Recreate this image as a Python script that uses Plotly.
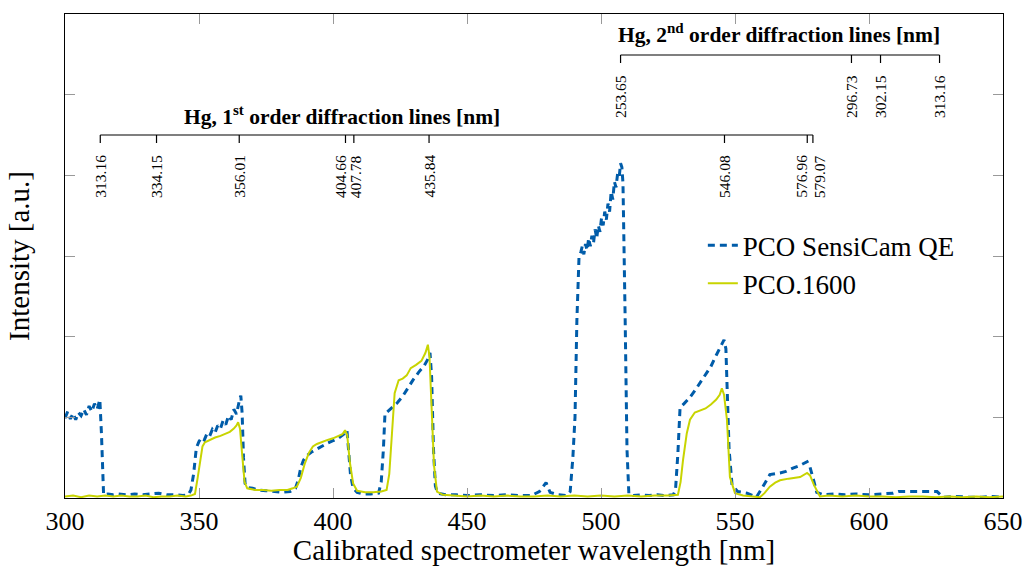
import plotly.graph_objects as go

# ---------------- data ----------------
sensicam_x = [300, 301, 302, 303, 304, 305, 306, 307, 308, 309, 310, 311, 312, 313, 313.6, 314.0, 314.4,
              316, 318, 320, 323, 326, 329, 332, 335, 338, 341, 344, 346, 347, 348, 349, 350, 351, 352, 353,
              354, 355, 356, 357, 358, 359, 360, 361, 362, 363, 364, 365, 365.6, 366.1, 366.6, 367.2, 368,
              370, 372, 375, 378, 381, 384, 386, 387, 388, 389, 390, 392, 394, 396, 398, 400, 402, 404,
              405.2, 405.8, 406.5, 407.5, 409, 411, 414, 417, 418, 418.8, 419.4, 420, 422, 424, 426, 428,
              430, 432, 434, 435.4, 436.2, 436.8, 437.5, 438.2, 439, 442, 446, 450, 455, 460, 465, 470,
              474, 477, 479.5, 481, 484, 487, 488.5, 489.5, 490.3, 491, 491.8, 492.5, 493, 493.6, 494.2,
              494.8, 495.4, 496, 496.6, 497.2, 497.8, 498.4, 499, 499.6, 500.2, 500.8, 501.4, 502, 502.6,
              503.2, 503.8, 504.4, 505, 505.6, 506.2, 506.8, 507.3, 507.8, 508.2, 509, 509.7, 510.4, 512,
              515, 518, 521, 524, 527, 527.8, 528.7, 529.5, 531, 533, 535, 537, 539, 541, 543, 544.5,
              545.9, 546.6, 547.2, 547.8, 548.9, 551, 554.5, 558, 560.4, 563, 566.8, 569, 571.6, 574,
              576.9, 578, 579.5, 580.5, 583, 587, 591, 595, 600, 605, 609, 611, 614, 618, 622, 625.4,
              627.6, 632, 637, 642, 646, 650]
sensicam_y = [0.99, 1.07, 0.98, 1.05, 0.97, 1.06, 1.02, 1.10, 1.03, 1.14, 1.07, 1.17, 1.10, 1.22, 0.80, 0.25, 0.04,
              0.05, 0.04, 0.05, 0.04, 0.05, 0.04, 0.05, 0.06, 0.04, 0.04, 0.03, 0.04, 0.10, 0.30, 0.62, 0.70, 0.75, 0.72, 0.80,
              0.77, 0.85, 0.81, 0.90, 0.86, 0.96, 0.91, 1.02, 0.97, 1.10, 1.04, 1.20, 1.27, 1.05, 0.50, 0.18, 0.13,
              0.12, 0.10, 0.09, 0.08, 0.07, 0.08, 0.12, 0.22, 0.38, 0.47, 0.52, 0.57, 0.61, 0.64, 0.68, 0.71, 0.74, 0.79,
              0.84, 0.60, 0.30, 0.12, 0.07, 0.05, 0.05, 0.06, 0.20, 0.60, 1.05, 1.06, 1.12, 1.18, 1.26, 1.37,
              1.47, 1.56, 1.64, 1.72, 1.80, 1.50, 0.60, 0.15, 0.06, 0.04, 0.04, 0.03, 0.04, 0.03, 0.04, 0.03,
              0.03, 0.08, 0.19, 0.07, 0.04, 0.03, 0.08, 0.50, 1.00, 2.20, 2.99, 3.05, 3.12, 3.02, 3.15,
              3.07, 3.22, 3.12, 3.25, 3.16, 3.33, 3.22, 3.38, 3.30, 3.47, 3.38, 3.55, 3.45, 3.65,
              3.55, 3.80, 3.70, 3.92, 3.85, 4.02, 3.98, 4.15, 4.10, 3.90, 2.25, 0.60, 0.05, 0.03,
              0.04, 0.03, 0.04, 0.03, 0.04, 0.10, 0.56, 1.12, 1.17, 1.24, 1.33, 1.43, 1.52, 1.63, 1.77, 1.87,
              1.96, 1.85, 1.30, 0.60, 0.16, 0.08, 0.06, 0.01, 0.14, 0.29, 0.31, 0.33, 0.37, 0.40,
              0.45, 0.38, 0.20, 0.07, 0.04, 0.05, 0.04, 0.05, 0.04, 0.05, 0.06, 0.08, 0.08, 0.08, 0.08, 0.08,
              0.01, 0.02, 0.01, 0.01, 0.02, 0.01]

pco1600_x = [300, 303, 306, 309, 312, 315, 318, 321, 324, 327, 330, 333, 336, 339, 342, 345, 347, 348.5,
             349.5, 350.5, 351.3, 352.2, 354, 356, 358, 360, 361.5, 363, 364, 364.6, 365.3, 366.2, 367, 368,
             371, 374, 377, 380, 383, 385, 386.5, 388, 389.5, 391, 392.5, 394, 396, 398, 400, 402, 403.5,
             404.5, 405.3, 406.3, 407.5, 409, 412, 415, 418, 420, 421, 422, 423, 424.5, 426, 427.5, 429,
             431, 433, 434.5, 435.4, 436, 436.8, 437.7, 438.8, 441, 445, 450, 455, 460, 465, 470, 475, 480,
             485, 490, 495, 500, 505, 510, 515, 520, 525, 528.7, 529.7, 530.6, 532, 533.2, 535, 537, 539,
             541, 543, 544.3, 545.1, 545.9, 547, 548.1, 550, 553, 556, 559.3, 561, 563, 565, 566.8, 570,
             574.3, 576.9, 578, 579.5, 580.5, 581.7, 585, 590, 595, 600, 605, 610, 615, 620, 625, 630, 635,
             640, 645, 650]
pco1600_y = [0.02, 0.03, 0.01, 0.03, 0.02, 0.03, 0.02, 0.03, 0.02, 0.02, 0.03, 0.01, 0.02, 0.02, 0.03, 0.02, 0.03, 0.05,
             0.25, 0.50, 0.64, 0.69, 0.72, 0.75, 0.77, 0.80, 0.82, 0.86, 0.90, 0.94, 0.86, 0.50, 0.20, 0.12,
             0.10, 0.10, 0.09, 0.10, 0.10, 0.12, 0.14, 0.25, 0.43, 0.56, 0.64, 0.67, 0.70, 0.72, 0.74, 0.77, 0.79,
             0.84, 0.78, 0.44, 0.18, 0.09, 0.07, 0.07, 0.08, 0.10, 0.30, 0.80, 1.30, 1.46, 1.48, 1.52, 1.61,
             1.65, 1.70, 1.80, 1.90, 1.75, 1.20, 0.40, 0.08, 0.04, 0.03, 0.02, 0.03, 0.02, 0.03, 0.02, 0.02, 0.03,
             0.02, 0.03, 0.02, 0.03, 0.02, 0.03, 0.02, 0.03, 0.03, 0.04, 0.20, 0.47, 0.80, 0.97, 1.06, 1.09, 1.11,
             1.16, 1.22, 1.28, 1.36, 1.28, 0.97, 0.26, 0.06, 0.03, 0.02, 0.01, 0.06, 0.14, 0.19, 0.22, 0.24,
             0.26, 0.31, 0.28, 0.16, 0.10, 0.02, 0.03, 0.02, 0.03, 0.02, 0.02, 0.01, 0.02, 0.02, 0.01, 0.02, 0.01,
             0.02, 0.01, 0.02]

x_ticks = [300, 350, 400, 450, 500, 550, 600, 650]
y_ticks = [1, 2, 3, 4, 5]

# Hg lines, 1st order (position on the calibrated axis, printed label)
first_pos = [313.16, 334.15, 365.01, 404.66, 407.78, 435.84, 546.08, 576.96, 579.07]
first_lbl = ["313.16", "334.15", "356.01", "404.66", "407.78", "435.84", "546.08", "576.96", "579.07"]
first_nudge = [0, 0, 0, -5, 2, 0, 0, -6, 6]
# Hg lines, 2nd order (appear at twice the wavelength)
second_val = [253.65, 296.73, 302.15, 313.16]
second_lbl = ["253.65", "296.73", "302.15", "313.16"]
second_nudge = [0, 0, 0, 0]

BLUE = "#005ca9"
GREEN = "#c8d400"
FONT = "Liberation Serif"

fig = go.Figure()
fig.add_trace(go.Scatter(x=sensicam_x, y=sensicam_y, mode="lines", name="PCO SensiCam QE",
                         line=dict(color=BLUE, width=3, dash="7px,5px")))
fig.add_trace(go.Scatter(x=pco1600_x, y=pco1600_y, mode="lines", name="PCO.1600",
                         line=dict(color=GREEN, width=2)))

shapes = []
annotations = []


def bracket(positions, labels, nudges, y_line, y_tick, y_lbl, title, title_x, title_y):
    shapes.append(dict(type="line", xref="x", yref="paper", x0=positions[0], x1=positions[-1],
                       y0=y_line, y1=y_line, line=dict(color="black", width=1.2)))
    for p, l, n in zip(positions, labels, nudges):
        shapes.append(dict(type="line", xref="x", yref="paper", x0=p, x1=p, y0=y_line, y1=y_tick,
                           line=dict(color="black", width=1.2)))
        annotations.append(dict(x=p, y=y_lbl, xref="x", yref="paper", text=l, showarrow=False,
                                textangle=-90, xanchor="center", yanchor="top", xshift=n,
                                font=dict(family=FONT, size=15.5, color="black")))
    annotations.append(dict(x=title_x, y=title_y, xref="x", yref="paper", text=title, showarrow=False,
                            xanchor="center", yanchor="middle",
                            font=dict(family=FONT, size=21.5, color="black")))


bracket(first_pos, first_lbl, first_nudge, 0.750, 0.7335, 0.713,
        "<b>Hg, 1<sup>st</sup> order diffraction lines [nm]</b>", 403.5, 0.791)
bracket([2 * v for v in second_val], second_lbl, second_nudge, 0.9153, 0.8988, 0.878,
        "<b>Hg, 2<sup>nd</sup> order diffraction lines [nm]</b>", 566.4, 0.9587)

fig.update_layout(
    width=1024, height=566,
    margin=dict(l=65, r=21, t=14, b=68, autoexpand=False),
    paper_bgcolor="white", plot_bgcolor="white",
    font=dict(family=FONT, size=27, color="black"),
    showlegend=True,
    legend=dict(x=0.68, y=0.572, xanchor="left", yanchor="top", bgcolor="rgba(0,0,0,0)",
                font=dict(family=FONT, size=27), tracegroupgap=0, itemwidth=30),
    shapes=shapes, annotations=annotations,
    xaxis=dict(range=[300, 650], tickvals=x_ticks, ticks="inside", ticklen=10, tickcolor="#999999",
               showline=True, linecolor="black", linewidth=1.2, mirror="ticks", showgrid=False,
               zeroline=False, tickfont=dict(family=FONT, size=26), automargin=False,
               title=dict(text="Calibrated spectrometer wavelength [nm]", font=dict(family=FONT, size=29),
                          standoff=8)),
    yaxis=dict(range=[0, 6], tickvals=y_ticks, ticks="inside", ticklen=10, tickcolor="#999999",
               showticklabels=False, showline=True, linecolor="black", linewidth=1.2, mirror="ticks",
               showgrid=False, zeroline=False, automargin=False,
               title=dict(text="Intensity [a.u.]", font=dict(family=FONT, size=29), standoff=25)),
)

fig.write_html("out.html")
